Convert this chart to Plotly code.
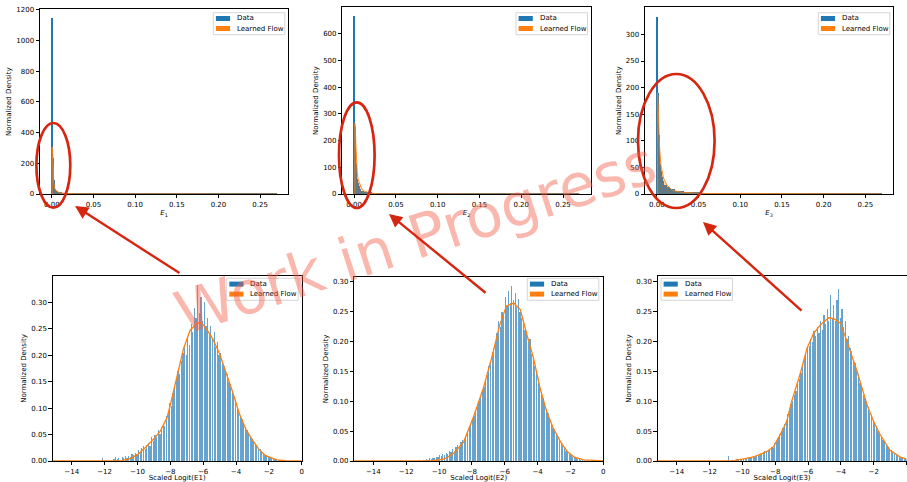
import plotly.graph_objects as go

W, H = 907, 482

# ---------------- data ----------------
legend_labels = ["Data", "Learned Flow"]
top_titles = ["<i>E</i><sub>1</sub>", "<i>E</i><sub>2</sub>", "<i>E</i><sub>3</sub>"]
bottom_titles = ["Scaled Logit(E1)", "Scaled Logit(E2)", "Scaled Logit(E3)"]

# top row: raw energy fractions, histogram bin edges + normalized density
e1_edges = [0.0, 0.0003, 0.0006, 0.0009, 0.0012, 0.0016, 0.0022, 0.0030, 0.0038, 0.0048,
            0.0060, 0.0075, 0.0095, 0.0125, 0.0170, 0.0240, 0.0400, 0.2700]
e1_data = [1145, 800, 520, 400, 230, 200, 90, 55, 30, 20, 12, 8, 5, 3, 2, 1, 0.3]
e1_flow_x = [0.0002, 0.0002, 0.0006, 0.0012, 0.0018, 0.0024, 0.0036, 0.0056, 0.0096, 0.0175, 0.0300, 0.0600, 0.2700]
e1_flow_y = [0, 305, 300, 250, 150, 70, 35, 20, 8, 3, 1, 0.4, 0.2]

e2_edges = [0.0, 0.0003, 0.0006, 0.0009, 0.0012, 0.0016, 0.0020, 0.0026, 0.0034, 0.0044,
            0.0056, 0.0070, 0.0090, 0.0120, 0.0160, 0.0220, 0.0320, 0.0500, 0.2700]
e2_data = [665, 600, 450, 350, 250, 160, 110, 80, 55, 40, 28, 18, 12, 7, 4, 2, 1, 0.3]
e2_flow_x = [0.0008, 0.0008, 0.0014, 0.0020, 0.0028, 0.0036, 0.0048, 0.0068, 0.0088, 0.0118, 0.0148, 0.0188, 0.0300, 0.0600, 0.2700]
e2_flow_y = [0, 265, 250, 190, 120, 85, 55, 35, 22, 12, 8, 3, 1, 0.4, 0.2]

e3_edges = [0.0, 0.0003, 0.0006, 0.0009, 0.0012, 0.0016, 0.0020, 0.0026, 0.0034, 0.0044,
            0.0056, 0.0070, 0.0090, 0.0120, 0.0160, 0.0220, 0.0320, 0.0500, 0.2700]
e3_data = [333, 310, 265, 230, 190, 150, 110, 75, 55, 42, 32, 24, 17, 12, 8, 5, 2.5, 0.4]
e3_flow_x = [0.0006, 0.0006, 0.0012, 0.0020, 0.0032, 0.0048, 0.0080, 0.0120, 0.0179, 0.0239, 0.0319, 0.0438, 0.0600, 0.2700]
e3_flow_y = [0, 190, 185, 150, 90, 55, 30, 17, 8, 5, 3, 2, 1, 0.2]

# bottom row: scaled logit histograms, bin width 0.1
LOGIT_BIN_W = 0.1
l1_start = -12.2
l1_data = [
    0.005, 0, 0, 0, 0, 0, 0, 0.003, 0.008, 0.004,
    0.006, 0.0, 0.007, 0.005, 0.009, 0.006, 0.010, 0.008, 0.013, 0.011,
    0.016, 0.014, 0.020, 0.017, 0.024, 0.028, 0.022, 0.030, 0.034, 0.029,
    0.045, 0.038, 0.050, 0.046, 0.058, 0.052, 0.064, 0.070, 0.066, 0.085,
    0.092, 0.110, 0.105, 0.128, 0.140, 0.155, 0.170, 0.165, 0.190, 0.205,
    0.215, 0.200, 0.235, 0.220, 0.260, 0.245, 0.290, 0.270, 0.333, 0.280,
    0.310, 0.265, 0.300, 0.255, 0.270, 0.240, 0.255, 0.230, 0.245, 0.215,
    0.225, 0.200, 0.205, 0.190, 0.180, 0.170, 0.165, 0.150, 0.145, 0.130,
    0.125, 0.115, 0.100, 0.095, 0.085, 0.080, 0.070, 0.065, 0.058, 0.052,
    0.048, 0.042, 0.038, 0.033, 0.030, 0.025, 0.022, 0.018, 0.016, 0.012,
    0.011, 0.009, 0.007, 0.006, 0.005, 0.004, 0.003, 0.002, 0.002, 0.001,
    0.001, 0.0,
]
l1_flow_x = [-15.2, -11.0, -10.4, -10.0, -9.5, -9.0, -8.6, -8.2, -8.0, -7.6, -7.2, -6.8, -6.4, -6.2,
             -6.0, -5.8, -5.4, -5.0, -4.6, -4.2, -3.8, -3.4, -3.0, -2.6, -2.2, -1.8, -1.5, -1.0, 0.0]
l1_flow_y = [0, 0, 0.005, 0.012, 0.026, 0.042, 0.057, 0.082, 0.106, 0.162, 0.212, 0.247, 0.260, 0.262,
             0.258, 0.250, 0.230, 0.203, 0.168, 0.130, 0.090, 0.060, 0.040, 0.022, 0.010, 0.005, 0.002, 0.0005, 0]

l2_start = -11.2
l2_data = [
    0.002, 0.0, 0.003, 0.002, 0.004, 0.003, 0.005, 0.004, 0.006, 0.005,
    0.008, 0.007, 0.010, 0.009, 0.012, 0.011, 0.014, 0.013, 0.017, 0.015,
    0.020, 0.018, 0.024, 0.028, 0.026, 0.032, 0.036, 0.034, 0.042, 0.048,
    0.055, 0.062, 0.070, 0.075, 0.085, 0.090, 0.100, 0.108, 0.118, 0.125,
    0.138, 0.145, 0.160, 0.165, 0.182, 0.190, 0.200, 0.215, 0.235, 0.225,
    0.250, 0.245, 0.275, 0.260, 0.285, 0.265, 0.293, 0.270, 0.282, 0.258,
    0.272, 0.250, 0.240, 0.232, 0.220, 0.215, 0.200, 0.205, 0.180, 0.175,
    0.160, 0.150, 0.140, 0.125, 0.115, 0.105, 0.095, 0.088, 0.080, 0.070,
    0.064, 0.056, 0.050, 0.045, 0.040, 0.034, 0.030, 0.025, 0.022, 0.018,
    0.015, 0.012, 0.010, 0.008, 0.007, 0.005, 0.004, 0.004, 0.003, 0.002,
    0.002, 0.001, 0.002, 0.001, 0.001, 0.0, 0.001, 0.0,
]
l2_flow_x = [-15.2, -10.5, -9.7, -9.1, -8.5, -7.9, -7.3, -6.8, -6.3, -5.9, -5.45, -5.05, -4.65, -4.25,
             -3.85, -3.45, -3.05, -2.6, -2.2, -1.8, -1.2, -0.5, 0.0]
l2_flow_y = [0, 0, 0.003, 0.013, 0.032, 0.074, 0.122, 0.172, 0.228, 0.259, 0.264, 0.253, 0.211, 0.172,
             0.122, 0.083, 0.055, 0.032, 0.016, 0.007, 0.002, 0.0005, 0]

l3_start = -11.0
l3_data = [
    0.0, 0.008, 0.0, 0.001, 0.002, 0.001, 0.003, 0.002, 0.003, 0.004,
    0.003, 0.005, 0.004, 0.006, 0.005, 0.007, 0.008, 0.007, 0.010, 0.009,
    0.012, 0.011, 0.014, 0.016, 0.015, 0.019, 0.018, 0.024, 0.022, 0.030,
    0.034, 0.038, 0.045, 0.050, 0.055, 0.062, 0.068, 0.078, 0.085, 0.095,
    0.100, 0.110, 0.118, 0.130, 0.138, 0.148, 0.158, 0.172, 0.178, 0.190,
    0.192, 0.205, 0.200, 0.218, 0.210, 0.225, 0.215, 0.235, 0.220, 0.245,
    0.230, 0.255, 0.235, 0.278, 0.240, 0.262, 0.235, 0.270, 0.288, 0.240,
    0.255, 0.225, 0.235, 0.205, 0.210, 0.190, 0.185, 0.170, 0.165, 0.150,
    0.145, 0.130, 0.125, 0.110, 0.105, 0.095, 0.090, 0.080, 0.075, 0.068,
    0.062, 0.058, 0.050, 0.046, 0.042, 0.036, 0.032, 0.028, 0.024, 0.020,
    0.018, 0.015, 0.013, 0.011, 0.009, 0.008, 0.006, 0.005, 0.004, 0.003,
]
l3_flow_x = [-15.2, -10.6, -10.0, -9.3, -8.5, -8.1, -7.7, -7.3, -7.0, -6.5, -6.06, -5.66, -5.25, -4.74,
             -4.4, -4.03, -3.62, -3.01, -2.4, -2.0, -1.6, -1.0, -0.4, 0.0]
l3_flow_y = [0, 0, 0.003, 0.007, 0.016, 0.024, 0.044, 0.066, 0.100, 0.144, 0.189, 0.214, 0.228, 0.240,
             0.238, 0.231, 0.200, 0.150, 0.094, 0.066, 0.044, 0.018, 0.007, 0.003]

top_yticks = [list(range(0, 1201, 200)), list(range(0, 601, 100)), list(range(0, 301, 50))]
top_ymax = [1202, 700, 351]
bottom_ymax = [0.35, 0.308, 0.31]

# ---------------- styling / layout helpers ----------------
FONT = "DejaVu Sans"
BLUE = "#1f77b4"
ORANGE = "#ff7f0e"
RED = "#d7260f"


def PX(x):
    return x / W


def PY(y):
    return 1 - y / H


# panel frames in pixels: left, top, right, bottom
frames = [
    (40.0, 9.3, 288.0, 194.0),
    (342.3, 7.3, 591.0, 194.0),
    (645.0, 7.3, 893.3, 194.0),
    (52.7, 276.0, 301.7, 461.0),
    (354.3, 276.7, 603.3, 461.0),
    (657.7, 276.0, 906.5, 461.0),
]
# legend boxes (left, top) in pixels
legend_pos = [(213.3, 12.7), (516.0, 12.7), (818.3, 12.7), (226.7, 278.3), (527.3, 278.3), (661.0, 278.3)]

fig = go.Figure()


def axis_base():
    return dict(showline=True, mirror=True, linecolor="black", linewidth=0.8,
                ticks="outside", ticklen=3.5, tickwidth=0.8, tickcolor="black",
                showgrid=False, zeroline=False, automargin=False,
                tickfont=dict(family=FONT, size=7, color="black"))


# top-row histograms
top_sets = [(e1_edges, e1_data, e1_flow_x, e1_flow_y),
            (e2_edges, e2_data, e2_flow_x, e2_flow_y),
            (e3_edges, e3_data, e3_flow_x, e3_flow_y)]
for i, (edges, dens, fx, fy) in enumerate(top_sets):
    xa = "x" if i == 0 else f"x{i + 1}"
    ya = "y" if i == 0 else f"y{i + 1}"
    centers = [(edges[k] + edges[k + 1]) / 2 for k in range(len(dens))]
    widths = [edges[k + 1] - edges[k] for k in range(len(dens))]
    fig.add_trace(go.Bar(x=centers, y=dens, width=widths, marker=dict(color=BLUE, line=dict(width=0)),
                         name=legend_labels[0], showlegend=False, xaxis=xa, yaxis=ya))
    fig.add_trace(go.Scatter(x=fx, y=fy, mode="lines", fill="tozeroy",
                             fillcolor="rgba(255,127,14,0.3)", line=dict(color=ORANGE, width=0.9),
                             name=legend_labels[1], showlegend=False, xaxis=xa, yaxis=ya))

# bottom-row histograms
bottom_sets = [(l1_start, l1_data, l1_flow_x, l1_flow_y),
               (l2_start, l2_data, l2_flow_x, l2_flow_y),
               (l3_start, l3_data, l3_flow_x, l3_flow_y)]
for i, (start, dens, fx, fy) in enumerate(bottom_sets):
    n = i + 4
    xa, ya = f"x{n}", f"y{n}"
    centers = [start + LOGIT_BIN_W * (k + 0.5) for k in range(len(dens))]
    fig.add_trace(go.Bar(x=centers, y=dens, width=LOGIT_BIN_W * 0.75,
                         marker=dict(color="rgba(31,119,180,0.68)", line=dict(width=0)),
                         name=legend_labels[0], showlegend=False, xaxis=xa, yaxis=ya))
    fig.add_trace(go.Scatter(x=fx, y=fy, mode="lines", line=dict(color=ORANGE, width=1.3),
                             name=legend_labels[1], showlegend=False, xaxis=xa, yaxis=ya))

layout = dict(template="none", width=W, height=H, margin=dict(l=0, r=0, t=0, b=0, autoexpand=False),
              paper_bgcolor="white", plot_bgcolor="white", bargap=0, barmode="overlay",
              font=dict(family=FONT, size=7, color="black"))

for n, (l, t, r, b) in enumerate(frames, start=1):
    xk = "xaxis" if n == 1 else f"xaxis{n}"
    yk = "yaxis" if n == 1 else f"yaxis{n}"
    xid = "x" if n == 1 else f"x{n}"
    yid = "y" if n == 1 else f"y{n}"
    xa = axis_base()
    ya = axis_base()
    xa.update(domain=[PX(l), PX(r)], anchor=yid)
    ya.update(domain=[PY(b), PY(t)], anchor=xid)
    if n <= 3:
        xa.update(range=[-0.0142, 0.2835], tickvals=[0, 0.05, 0.10, 0.15, 0.20, 0.25], tickformat=".2f",
                  title=dict(text=top_titles[n - 1], font=dict(family=FONT, size=7), standoff=2))
        ya.update(range=[0, top_ymax[n - 1]], tickvals=top_yticks[n - 1],
                  title=dict(text="Normalized Density", font=dict(family=FONT, size=7), standoff=3))
    else:
        xa.update(range=[-15.16, 0.0], tickvals=[-14, -12, -10, -8, -6, -4, -2, 0],
                  title=dict(text=bottom_titles[n - 4], font=dict(family=FONT, size=7), standoff=1))
        ya.update(range=[0, bottom_ymax[n - 4]], tickvals=[0, 0.05, 0.10, 0.15, 0.20, 0.25, 0.30],
                  tickformat=".2f",
                  title=dict(text="Normalized Density", font=dict(family=FONT, size=7), standoff=3))
    layout[xk] = xa
    layout[yk] = ya

shapes = []
annotations = []

# legends (drawn manually in matplotlib style)
for (lx, ty) in legend_pos:
    shapes.append(dict(type="rect", xref="paper", yref="paper", layer="above",
                       x0=PX(lx), x1=PX(lx + 71.5), y0=PY(ty + 22.0), y1=PY(ty),
                       line=dict(color="#cccccc", width=0.8), fillcolor="rgba(255,255,255,0.8)"))
    for j, (lab, col) in enumerate(zip(legend_labels, [BLUE, ORANGE])):
        cy = ty + 5.8 + 10.0 * j
        shapes.append(dict(type="rect", xref="paper", yref="paper", layer="above",
                           x0=PX(lx + 2.6), x1=PX(lx + 16.8), y0=PY(cy + 2.5), y1=PY(cy - 2.5),
                           line=dict(width=0), fillcolor=col))
        annotations.append(dict(xref="paper", yref="paper", x=PX(lx + 21.5), y=PY(cy), text=lab,
                                showarrow=False, xanchor="left", yanchor="middle",
                                font=dict(family=FONT, size=7, color="black")))

# red ellipses highlighting the peaks
ellipses = [(36.4, 123.0, 70.3, 207.7), (339.0, 102.4, 374.6, 208.0), (638.0, 74.0, 714.6, 208.0)]
for (x0, y0, x1, y1) in ellipses:
    shapes.append(dict(type="circle", xref="paper", yref="paper", layer="above",
                       x0=PX(x0), x1=PX(x1), y0=PY(y1), y1=PY(y0),
                       line=dict(color=RED, width=2.7)))

# watermark
annotations.append(dict(xref="paper", yref="paper", x=PX(415), y=PY(238), text="Work in Progress",
                        showarrow=False, textangle=-18, xanchor="center", yanchor="middle",
                        font=dict(family=FONT, size=60, color="rgba(245,95,75,0.45)")))

# arrows from zoomed (logit) panels to raw panels: head, tail in pixels
arrows = [((75, 206), (181, 274)), ((389, 214), (487, 294)), ((703, 222), (803, 312))]
for (hx, hy), (tx, tyy) in arrows:
    annotations.append(dict(xref="paper", yref="paper", x=PX(hx), y=PY(hy), ax=tx - hx, ay=tyy - hy,
                            axref="pixel", ayref="pixel", text="", showarrow=True,
                            arrowhead=2, arrowsize=1.1, arrowwidth=2.4, arrowcolor=RED))

layout["shapes"] = shapes
layout["annotations"] = annotations
fig.update_layout(**layout)

fig.write_html("out.html", config={"displayModeBar": False},
               post_script="document.body.style.margin='0px';")
